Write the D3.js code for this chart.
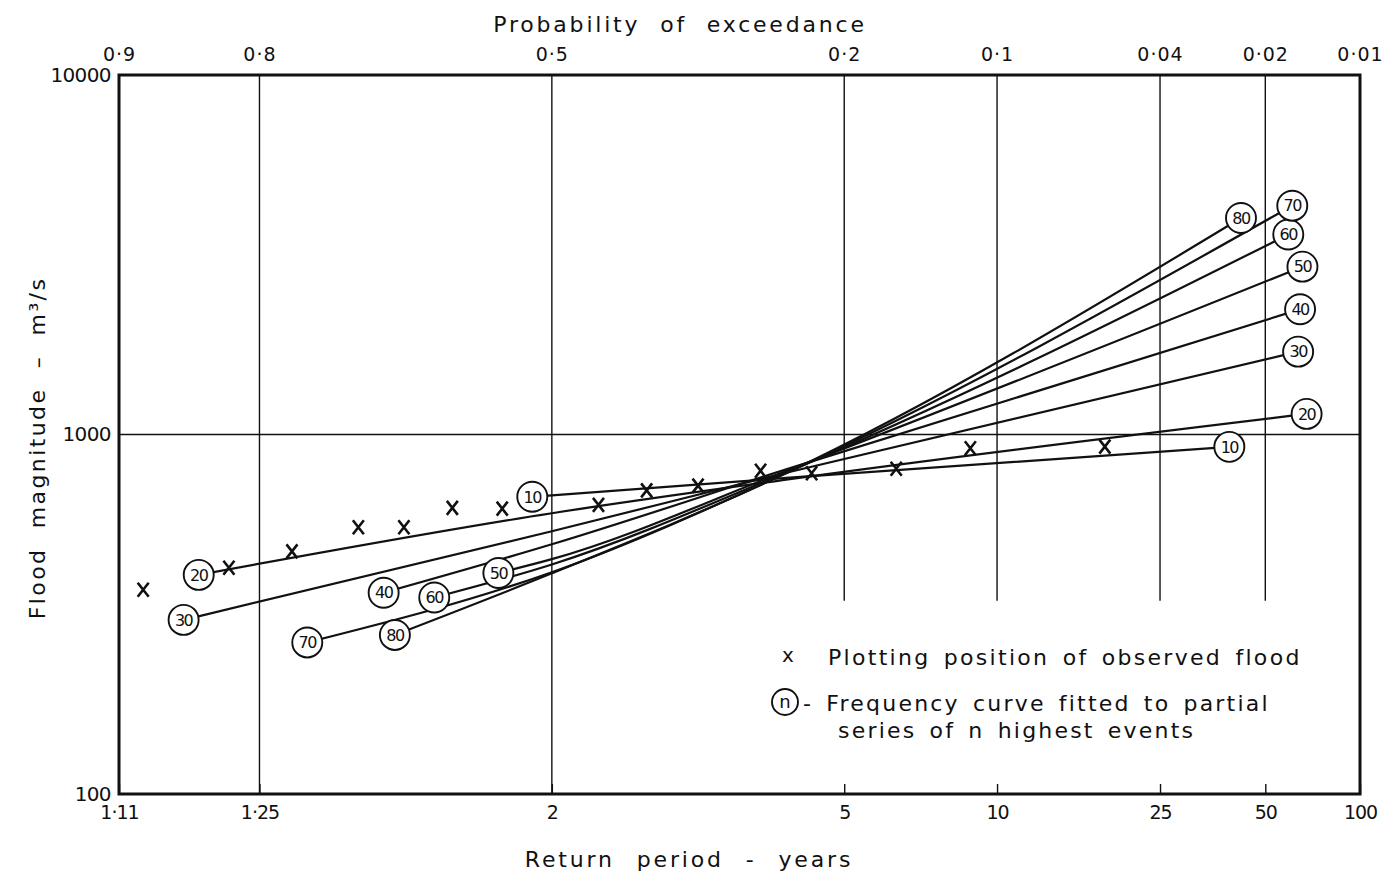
<!DOCTYPE html>
<html>
<head>
<meta charset="utf-8">
<script src="https://cdn.jsdelivr.net/npm/d3@7"></script>
<style>
body { margin: 0; background: #fff; }
svg text { font-family: "DejaVu Sans", sans-serif; fill: #111; }
.tick line { stroke: #111; stroke-width: 1.4; }
</style>
</head>
<body>
<svg width="1389" height="876"></svg>
<script>
// observed floods: return period (years) and flow (m3/s)
var obsT = [1.136, 1.214, 1.294, 1.406, 1.504, 1.632, 1.796, 2.239, 2.548, 2.968, 3.65, 4.40, 6.22, 8.76, 17.95];
var obsQ = [370, 426, 473, 552, 552, 625, 622, 637, 699, 721, 793, 780, 803, 916, 925];

// frequency curves, fitted to the n highest events
var curveN = [10, 20, 30, 40, 50, 60, 70, 80];
var curveT = [
    [1.914, 4, 39.1],
    [1.183, 2, 4, 67.1],
    [1.169, 2, 4, 63.1],
    [1.458, 2, 4, 64.0],
    [1.782, 2, 4, 65.1],
    [1.581, 2, 4, 58.8],
    [1.317, 2, 4, 60.5],
    [1.483, 2, 4, 42.3]
];
var curveQ = [
    [671, 757, 924],
    [407, 604, 749, 1141],
    [305, 538, 783, 1700],
    [363, 495, 800, 2230],
    [412, 450, 792, 2930],
    [352, 435, 785, 3600],
    [264, 414, 780, 4330],
    [277, 411, 781, 4000]
];

// axis ticks
var bottomTicks = [1.11, 1.25, 2, 5, 10, 25, 50, 100];
var bottomLabels = ['1·11', '1·25', '2', '5', '10', '25', '50', '100'];
var topTicks = [0.9, 0.8, 0.5, 0.2, 0.1, 0.04, 0.02, 0.01];
var topLabels = ['0·9', '0·8', '0·5', '0·2', '0·1', '0·04', '0·02', '0·01'];
var fullGrid = [1.25, 2];
var shortGrid = [5, 10, 25, 50];
var yTicks = [100, 1000, 10000];

// inverse normal cdf (Acklam) - the paper is normal probability paper
function qnorm(p) {
    var a = [-3.969683028665376e+01, 2.209460984245205e+02, -2.759285104469687e+02, 1.383577518672690e+02, -3.066479806614716e+01, 2.506628277459239e+00];
    var b = [-5.447609879822406e+01, 1.615858368580409e+02, -1.556989798598866e+02, 6.680131188771972e+01, -1.328068155288572e+01];
    var c = [-7.784894002430293e-03, -3.223964580411365e-01, -2.400758277161838e+00, -2.549671010366190e+00, 4.374664141464968e+00, 2.938163982698783e+00];
    var d = [7.784695709041462e-03, 3.224671290700398e-01, 2.445134137142996e+00, 3.754408661907416e+00];
    var pl = 0.02425, q, r;
    if (p < pl) {
        q = Math.sqrt(-2 * Math.log(p));
        return (((((c[0]*q+c[1])*q+c[2])*q+c[3])*q+c[4])*q+c[5]) / ((((d[0]*q+d[1])*q+d[2])*q+d[3])*q+1);
    }
    if (p <= 1 - pl) {
        q = p - 0.5; r = q * q;
        return (((((a[0]*r+a[1])*r+a[2])*r+a[3])*r+a[4])*r+a[5])*q / (((((b[0]*r+b[1])*r+b[2])*r+b[3])*r+b[4])*r+1);
    }
    q = Math.sqrt(-2 * Math.log(1 - p));
    return -(((((c[0]*q+c[1])*q+c[2])*q+c[3])*q+c[4])*q+c[5]) / ((((d[0]*q+d[1])*q+d[2])*q+d[3])*q+1);
}
function zT(T) { return qnorm(1 - 1 / T); }   // return period -> normal variate
function zP(p) { return qnorm(1 - p); }       // exceedance prob -> normal variate

var plotL = 119, plotR = 1360, plotT = 75, plotB = 794;

var xs = d3.scaleLinear().domain([-1.246, qnorm(0.99)]).range([plotL, plotR]).clamp(true);
var ys = d3.scaleLog().domain([100, 10000]).range([plotB, plotT]);
function scaleT(T) { return xs(zT(T)); }

var svg = d3.select('svg');

// **** grid ****
svg.selectAll('.vgrid').data(fullGrid).enter().append('line')
    .attr('x1', scaleT).attr('x2', scaleT)
    .attr('y1', plotT).attr('y2', plotB)
    .attr('stroke', '#111').attr('stroke-width', 1.4);
svg.selectAll('.sgrid').data(shortGrid).enter().append('line')
    .attr('x1', scaleT).attr('x2', scaleT)
    .attr('y1', plotT).attr('y2', ys(345))
    .attr('stroke', '#111').attr('stroke-width', 1.4);
svg.append('line')
    .attr('x1', plotL).attr('x2', plotR)
    .attr('y1', ys(1000)).attr('y2', ys(1000))
    .attr('stroke', '#111').attr('stroke-width', 1.4);

// **** axes ****
var xBottom = svg.append('g').attr('transform', 'translate(0,' + plotB + ')')
    .call(d3.axisBottom(xs)
        .tickValues(bottomTicks.map(zT))
        .tickFormat(function(d, i) { return bottomLabels[i]; })
        .tickSizeInner(-10).tickSizeOuter(0).tickPadding(12));
xBottom.select('.domain').remove();
xBottom.selectAll('text').attr('font-size', 19).style('letter-spacing', '-1px');

var xTop = svg.append('g').attr('transform', 'translate(0,' + plotT + ')')
    .call(d3.axisTop(xs)
        .tickValues(topTicks.map(zP))
        .tickFormat(function(d, i) { return topLabels[i]; })
        .tickSize(0).tickPadding(14));
xTop.select('.domain').remove();
xTop.selectAll('text').attr('font-size', 19).style('letter-spacing', '1px');

var yAxis = svg.append('g').attr('transform', 'translate(' + plotL + ',0)')
    .call(d3.axisLeft(ys).tickValues(yTicks).tickFormat(d3.format('d')).tickSize(0).tickPadding(8));
yAxis.select('.domain').remove();
yAxis.selectAll('text').attr('font-size', 20).style('letter-spacing', '-0.6px');

// frame
svg.append('rect')
    .attr('x', plotL).attr('y', plotT)
    .attr('width', plotR - plotL).attr('height', plotB - plotT)
    .attr('fill', 'none').attr('stroke', '#111').attr('stroke-width', 3);

// **** titles ****
svg.append('text')
    .attr('x', 680).attr('y', 32)
    .attr('text-anchor', 'middle').attr('font-size', 22)
    .style('letter-spacing', '2.8px').style('word-spacing', '10px')
    .text('Probability of exceedance');

svg.append('text')
    .attr('x', 689).attr('y', 867)
    .attr('text-anchor', 'middle').attr('font-size', 22)
    .style('letter-spacing', '2.85px').style('word-spacing', '12px')
    .text('Return period - years');

svg.append('text')
    .attr('transform', 'translate(45,448) rotate(-90)')
    .attr('text-anchor', 'middle').attr('font-size', 22)
    .style('letter-spacing', '2.4px').style('word-spacing', '10px')
    .text('Flood magnitude – m³/s');

// **** frequency curves ****
var line = d3.line()
    .x(function(d) { return scaleT(d[0]); })
    .y(function(d) { return ys(d[1]); })
    .curve(d3.curveMonotoneX);

var curves = curveN.map(function(n, i) {
    return { n: n, pts: curveT[i].map(function(t, j) { return [t, curveQ[i][j]]; }) };
});

svg.selectAll('.curve').data(curves).enter().append('path')
    .attr('class', 'curve')
    .attr('d', function(d) { return line(d.pts); })
    .attr('fill', 'none').attr('stroke', '#111').attr('stroke-width', 2.2);

// circled labels at both ends
var ends = [];
curves.forEach(function(c) {
    ends.push({ n: c.n, p: c.pts[0] });
    ends.push({ n: c.n, p: c.pts[c.pts.length - 1] });
});
var lab = svg.selectAll('.lab').data(ends).enter().append('g')
    .attr('transform', function(d) { return 'translate(' + scaleT(d.p[0]) + ',' + ys(d.p[1]) + ')'; });
lab.append('circle').attr('r', 15)
    .attr('fill', '#fff').attr('stroke', '#111').attr('stroke-width', 1.9);
lab.append('text')
    .attr('text-anchor', 'middle').attr('dy', '0.36em')
    .attr('font-size', 16).style('letter-spacing', '-1.5px')
    .text(function(d) { return d.n; });

// **** observed floods ****
svg.selectAll('.obs').data(obsT).enter().append('path')
    .attr('class', 'obs')
    .attr('transform', function(d, i) { return 'translate(' + scaleT(d) + ',' + ys(obsQ[i]) + ')'; })
    .attr('d', 'M-5.5,-7L5.5,7M5.5,-7L-5.5,7')
    .attr('stroke', '#111').attr('stroke-width', 2.6).attr('fill', 'none');

// **** legend ****
var leg = svg.append('g');
leg.append('text').attr('x', 788).attr('y', 662)
    .attr('text-anchor', 'middle').attr('font-size', 20).text('x');
leg.append('text').attr('x', 828).attr('y', 665)
    .attr('font-size', 22).style('letter-spacing', '2.3px').style('word-spacing', '4px')
    .text('Plotting position of observed flood');
leg.append('circle').attr('cx', 785).attr('cy', 702).attr('r', 13)
    .attr('fill', '#fff').attr('stroke', '#111').attr('stroke-width', 1.9);
leg.append('text').attr('x', 785).attr('y', 702).attr('dy', '0.36em')
    .attr('text-anchor', 'middle').attr('font-size', 18).text('n');
leg.append('text').attr('x', 803).attr('y', 711)
    .attr('font-size', 22).style('letter-spacing', '2.2px').style('word-spacing', '4px')
    .text('- Frequency curve fitted to partial');
leg.append('text').attr('x', 838).attr('y', 738)
    .attr('font-size', 22).style('letter-spacing', '2.2px').style('word-spacing', '4px')
    .text('series of n highest events');
</script>
</body>
</html>
